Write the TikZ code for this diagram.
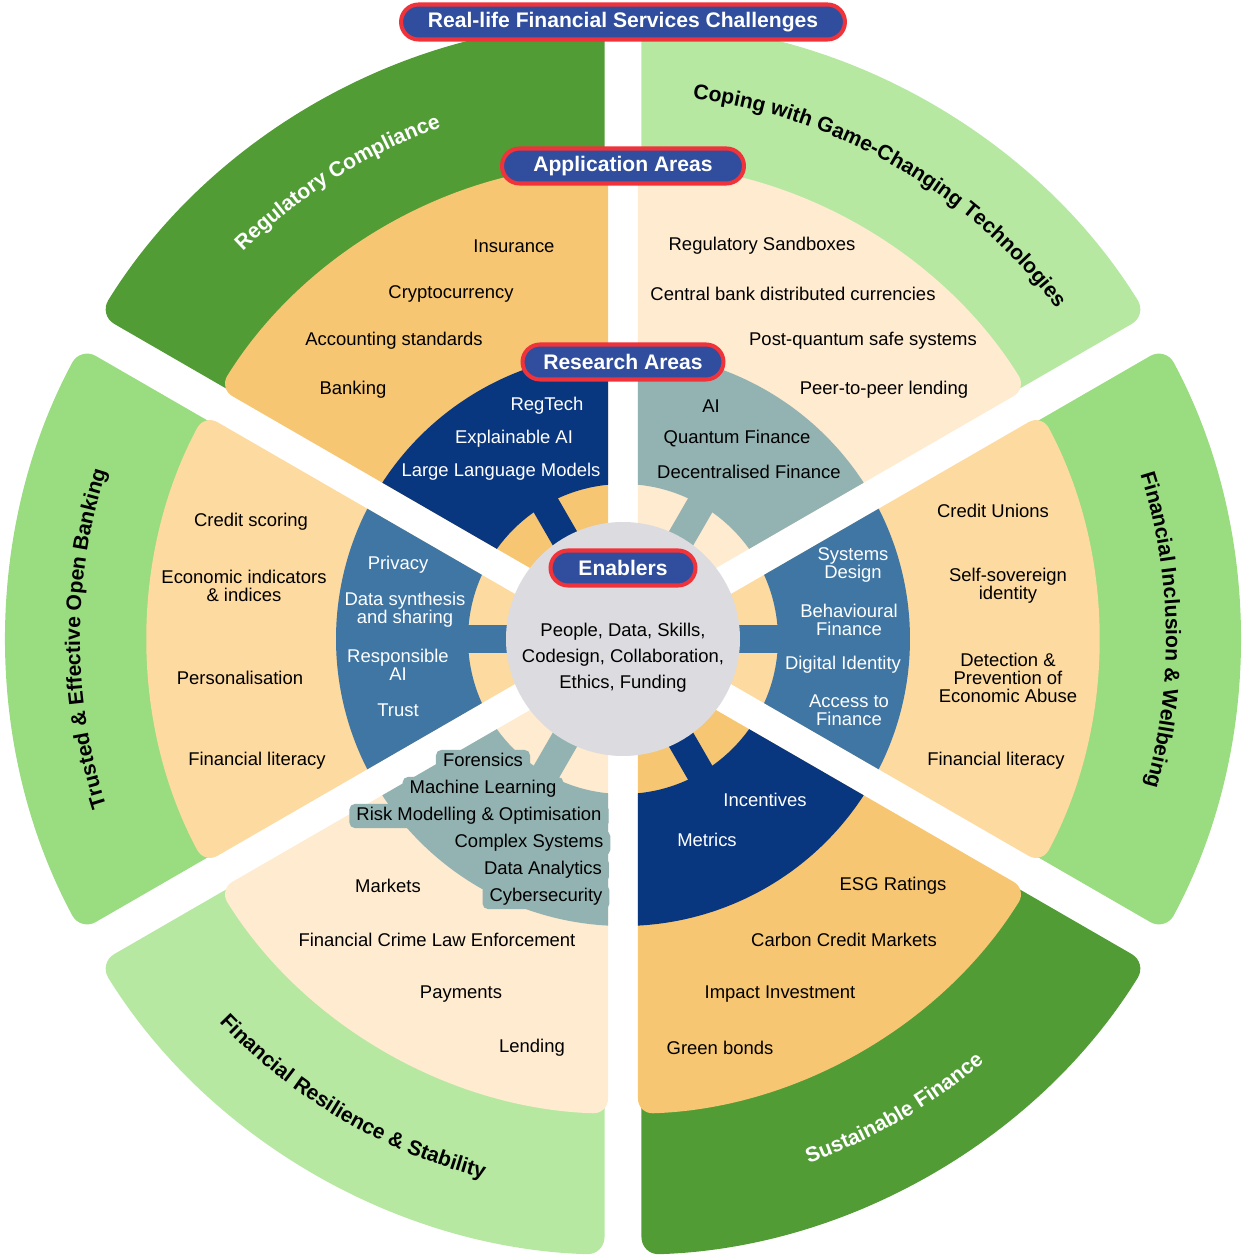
\documentclass[tikz,border=0pt]{standalone}
\usepackage{fontspec}
\setmainfont{Liberation Sans}
\usetikzlibrary{decorations.text}

\definecolor{greenDark}{HTML}{519C35}
\definecolor{greenLight}{HTML}{B6E8A2}
\definecolor{greenMid}{HTML}{9ADC80}
\definecolor{appOrange}{HTML}{F7C672}
\definecolor{appCream}{HTML}{FEEBD0}
\definecolor{appPeach}{HTML}{FDDA9F}
\definecolor{resNavy}{HTML}{08367F}
\definecolor{resTeal}{HTML}{93B3B2}
\definecolor{resBlue}{HTML}{3F76A4}
\definecolor{hubGrey}{HTML}{DCDCE0}
\definecolor{headBlue}{HTML}{304E9D}
\definecolor{headRed}{HTML}{F0323A}

\newcommand{\chalfont}{\fontsize{12}{14}\selectfont\bfseries}

% ring segment: style, start angle, end angle, inner r, outer r, half gap
\newcommand{\ringseg}[6]{%
  \fill[#1] ({#2+asin(#6/#5)}:#5)
    arc[start angle={#2+asin(#6/#5)}, end angle={#3-asin(#6/#5)}, radius=#5]
    -- ({#3-asin(#6/#4)}:#4)
    arc[start angle={#3-asin(#6/#4)}, end angle={#2+asin(#6/#4)}, radius=#4]
    -- cycle;}

\begin{document}
\begin{tikzpicture}[
  x=0.02cm,
  y=0.02cm,
  item/.style={font=\fontsize{10.5}{10.3}\selectfont, align=center, inner sep=0pt},
  itemw/.style={item, text=white},
  itembox/.style={item, fill=resTeal, rounded corners=3pt, inner xsep=4pt, inner ysep=1.6pt, text height=8pt, text depth=2.5pt},
  heading/.style={fill=headBlue, draw=headRed, line width=2.3pt, rounded corners=0.35cm, text=white, font=\chalfont, minimum height=0.7cm, inner sep=0pt},
]
\useasboundingbox (-623,-618) rectangle (623,639);

% sectors: start angle / challenge / application / research colours
\foreach \sa/\g/\p/\r in {90/greenDark/appOrange/resNavy, 30/greenLight/appCream/resTeal, -30/greenMid/appPeach/resBlue,
                          -90/greenDark/appOrange/resNavy, 210/greenLight/appCream/resTeal, 150/greenMid/appPeach/resBlue} {
  \pgfmathsetmacro{\se}{\sa+60}
  \ringseg{\g, rounded corners=0.35cm}{\sa}{\se}{400}{616}{18.5}
  \ringseg{\p, rounded corners=0.3cm}{\sa}{\se}{90}{475}{15}
  \ringseg{\r}{\sa}{\se}{155}{287}{15}
  \fill[\r, rotate={\sa+30}] (100,-14) rectangle (160,14);
}

\fill[hubGrey] (0,0) circle[radius=117];

% challenges
\path[decorate, decoration={text along path, text align=center, text color=white,
  text={|\chalfont|Regulatory Compliance}}] (162:543) arc[start angle=162, end angle=82, radius=543];
\path[decorate, decoration={text along path, text align=center, text color=black,
  text={|\chalfont|Coping with Game-Changing Technologies}}] (100:545) arc[start angle=100, end angle=20, radius=545];
\path[decorate, decoration={text along path, text align=center, text color=black,
  text={|\chalfont|Financial Inclusion {\&} Wellbeing}}] (41:543) arc[start angle=41, end angle=-39, radius=543];
\path[decorate, decoration={text along path, text align=center, text color=white,
  text={|\chalfont|Sustainable Finance}}] (-100:556) arc[start angle=-100, end angle=-20, radius=556];
\path[decorate, decoration={text along path, text align=center, text color=black,
  text={|\chalfont|Financial Resilience {\&} Stability}}] (199.5:557) arc[start angle=199.5, end angle=279.5, radius=557];
\path[decorate, decoration={text along path, text align=center, text color=black,
  text={|\chalfont|Trusted {\&} Effective Open Banking}}] (220:543) arc[start angle=220, end angle=140, radius=543];

% headings
\node[heading, minimum width=8.88cm] (challenges) at (0,617) {Real-life Financial Services Challenges};
\node[heading, minimum width=4.84cm] (application) at (0,473) {Application Areas};
\node[heading, minimum width=4.02cm] (research) at (0,277) {Research Areas};
\node[heading, minimum width=2.9cm] (enablers) at (0,71) {Enablers};

\node[item, font=\fontsize{10.5}{14.7}\selectfont] (hub) at (0,-19) {People, Data, Skills,\\Codesign, Collaboration,\\Ethics, Funding};

% application areas
\node[item] (insurance) at (-109,393) {Insurance};
\node[item] (crypto) at (-172,345) {Cryptocurrency};
\node[item] (accounting) at (-229,298) {Accounting standards};
\node[item] (banking) at (-270,249) {Banking};

\node[item] (sandbox) at (139,393) {Regulatory Sandboxes};
\node[item] (cbdc) at (170,345) {Central bank distributed currencies};
\node[item] (pqsafe) at (240,298) {Post-quantum safe systems};
\node[item] (p2p) at (261,249) {Peer-to-peer lending};

\node[item] (creditscore) at (-372,117) {Credit scoring};
\node[item] (indicators) at (-379,53) {Economic indicators\\\& indices};
\node[item] (personal) at (-383,-39) {Personalisation};
\node[item] (literacyL) at (-366,-122) {Financial literacy};

\node[item] (unions) at (370,128) {Credit Unions};
\node[item] (selfsov) at (385,53) {Self-sovereign\\identity};
\node[item] (abuse) at (385,-39) {Detection \&\\Prevention of\\Economic Abuse};
\node[item] (literacyR) at (373,-122) {Financial literacy};

\node[item] (markets) at (-235,-247) {Markets};
\node[item] (crime) at (-186,-301) {Financial Crime Law Enforcement};
\node[item] (payments) at (-162,-355) {Payments};
\node[item] (lending) at (-91,-409) {Lending};

\node[item] (esg) at (270,-247) {ESG Ratings};
\node[item] (carbon) at (221,-301) {Carbon Credit Markets};
\node[item] (impact) at (157,-355) {Impact Investment};
\node[item] (green) at (97,-409) {Green bonds};

% research areas
\node[itemw] (regtech) at (-76,233) {RegTech};
\node[itemw] (xai) at (-109,200) {Explainable AI};
\node[itemw] (llm) at (-122,167) {Large Language Models};

\node[item] (ai) at (88,233) {AI};
\node[item] (quantum) at (114,200) {Quantum Finance};
\node[item] (defi) at (126,167) {Decentralised Finance};

\node[itemw] (privacy) at (-225,74) {Privacy};
\node[itemw] (synth) at (-218,29) {Data synthesis\\and sharing};
\node[itemw] (respai) at (-225,-26) {Responsible\\AI};
\node[itemw] (trust) at (-225,-71) {Trust};

\node[itemw] (sysdesign) at (230,74) {Systems\\Design};
\node[itemw] (behav) at (226,19) {Behavioural\\Finance};
\node[itemw] (digid) at (220,-26) {Digital Identity};
\node[itemw] (access) at (226,-71) {Access to\\Finance};

\node[itembox] (forensics) at (-140,-123) {Forensics};
\node[itembox] (ml) at (-140,-150) {Machine Learning};
\node[itembox] (risk) at (-144,-177) {Risk Modelling \& Optimisation};
\node[itembox] (complex) at (-94,-204) {Complex Systems};
\node[itembox] (analytics) at (-80,-231) {Data Analytics};
\node[itembox] (cyber) at (-77,-258) {Cybersecurity};

\node[itemw] (incentives) at (142,-161) {Incentives};
\node[itemw] (metrics) at (84,-201) {Metrics};

\end{tikzpicture}
\end{document}
